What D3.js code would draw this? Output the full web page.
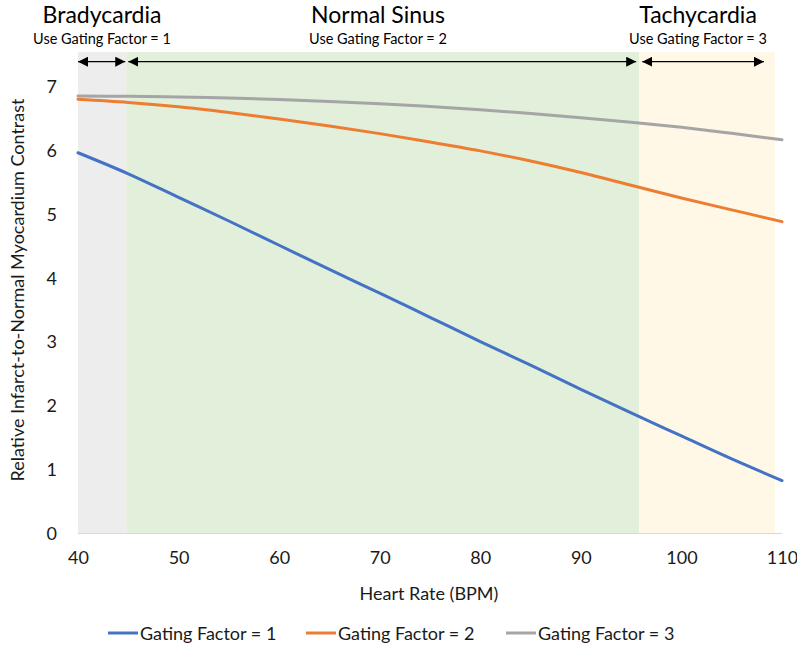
<!DOCTYPE html>
<html>
<head>
<meta charset="utf-8">
<script src="https://cdn.jsdelivr.net/npm/d3@7"></script>
<style>
  body { margin: 0; background: #fff; }
  svg { font-family: Lato, "Open Sans", sans-serif; }
</style>
</head>
<body>
<div id="chart"></div>
<script>
// 1. DATA
const heartRates = [40, 45, 50, 55, 60, 65, 70, 75, 80, 85, 90, 95, 100, 105, 110]
const gating1 = [5.97, 5.64, 5.27, 4.90, 4.52, 4.14, 3.77, 3.39, 3.01, 2.64, 2.26, 1.89, 1.53, 1.17, 0.83]
const gating2 = [6.81, 6.76, 6.69, 6.60, 6.50, 6.39, 6.27, 6.14, 6.00, 5.84, 5.66, 5.46, 5.26, 5.075, 4.89]
const gating3 = [6.86, 6.855, 6.845, 6.83, 6.805, 6.775, 6.74, 6.695, 6.645, 6.585, 6.52, 6.45, 6.37, 6.275, 6.175]
const seriesNames = ["Gating Factor = 1", "Gating Factor = 2", "Gating Factor = 3"]
const seriesColors = ["#4472C4", "#ED7D31", "#A5A5A5"]

const zoneNames = ["Bradycardia", "Normal Sinus", "Tachycardia"]
const zoneNotes = ["Use Gating Factor = 1", "Use Gating Factor = 2", "Use Gating Factor = 3"]
const zoneStart = [40, 44.8, 95.8]
const zoneEnd = [44.8, 95.8, 109.3]
const zoneColors = ["#EDEDED", "#E2EFDA", "#FFF8E6"]
const arrowStart = [40, 45, 96.1]
const arrowEnd = [44.7, 95.5, 108.2]

const xTicks = [40, 50, 60, 70, 80, 90, 100, 110]
const yTicks = [0, 1, 2, 3, 4, 5, 6, 7]

// 2. DIMENSIONS
const dimensions = {
    width: 797,
    height: 646,
    margin: { top: 52, right: 15, bottom: 112.5, left: 78 }
}
dimensions.boundedWidth = dimensions.width - dimensions.margin.left - dimensions.margin.right
dimensions.boundedHeight = dimensions.height - dimensions.margin.top - dimensions.margin.bottom

// 3. DRAW CANVAS
const wrapper = d3.select("#chart")
    .append("svg")
    .attr("width", dimensions.width)
    .attr("height", dimensions.height)

const bounds = wrapper.append("g")
    .attr("transform", `translate(${dimensions.margin.left},${dimensions.margin.top})`)

// 4. SCALES
const xScale = d3.scaleLinear()
    .domain([40, 110])
    .range([0, dimensions.boundedWidth])
const yScale = d3.scaleLinear()
    .domain([0, 7.55])
    .range([dimensions.boundedHeight, 0])

// 5. ZONES
bounds.selectAll("rect.zone")
    .data(zoneStart)
  .enter().append("rect")
    .attr("class", "zone")
    .attr("x", (d, i) => xScale(d))
    .attr("width", (d, i) => xScale(zoneEnd[i]) - xScale(d))
    .attr("y", yScale(7.55))
    .attr("height", yScale(0) - yScale(7.55))
    .attr("fill", (d, i) => zoneColors[i])

// x axis line
bounds.append("line")
    .attr("x1", 0).attr("x2", dimensions.boundedWidth)
    .attr("y1", yScale(0)).attr("y2", yScale(0))
    .attr("stroke", "#D9D9D9")
    .attr("stroke-width", 1.2)

// arrows
const defs = wrapper.append("defs")
defs.append("marker")
    .attr("id", "head")
    .attr("viewBox", "0 0 10 10")
    .attr("refX", 10).attr("refY", 5)
    .attr("markerWidth", 10).attr("markerHeight", 10)
    .attr("markerUnits", "userSpaceOnUse")
    .attr("orient", "auto-start-reverse")
  .append("path")
    .attr("d", "M0,0 L10,5 L0,10 Z")
    .attr("fill", "#000")

const arrowY = yScale(7.55) + 9.7
bounds.selectAll("line.arrow")
    .data(arrowStart)
  .enter().append("line")
    .attr("class", "arrow")
    .attr("x1", d => xScale(d))
    .attr("x2", (d, i) => xScale(arrowEnd[i]))
    .attr("y1", arrowY).attr("y2", arrowY)
    .attr("stroke", "#000")
    .attr("stroke-width", 1.2)
    .attr("marker-start", "url(#head)")
    .attr("marker-end", "url(#head)")

// 6. LINES
const lineGenerator = d3.line()
    .x((d, i) => xScale(heartRates[i]))
    .y(d => yScale(d))
    .curve(d3.curveCatmullRom)

bounds.selectAll("path.series")
    .data([gating1, gating2, gating3])
  .enter().append("path")
    .attr("class", "series")
    .attr("d", lineGenerator)
    .attr("fill", "none")
    .attr("stroke", (d, i) => seriesColors[i])
    .attr("stroke-width", 3)
    .attr("stroke-linecap", "round")

// 7. PERIPHERALS
const xAxisGenerator = d3.axisBottom(xScale)
    .tickValues(xTicks)
    .tickSize(0)
    .tickPadding(18)
const xAxis = bounds.append("g")
    .attr("transform", `translate(0,${yScale(0)})`)
    .call(xAxisGenerator)
xAxis.select(".domain").remove()
xAxis.selectAll("text")
    .attr("fill", "#1a1a1a")
    .style("font-size", "18px")
    .style("font-family", "Lato, sans-serif")

const yAxisGenerator = d3.axisLeft(yScale)
    .tickValues(yTicks)
    .tickSize(0)
    .tickPadding(21)
const yAxis = bounds.append("g")
    .call(yAxisGenerator)
yAxis.select(".domain").remove()
yAxis.selectAll("text")
    .attr("fill", "#1a1a1a")
    .style("font-size", "18px")
    .style("font-family", "Lato, sans-serif")

wrapper.append("text")
    .attr("x", 429)
    .attr("y", 600)
    .attr("text-anchor", "middle")
    .attr("fill", "#1a1a1a")
    .style("font-size", "18px")
    .text("Heart Rate (BPM)")

wrapper.append("text")
    .attr("transform", "translate(24,290) rotate(-90)")
    .attr("text-anchor", "middle")
    .attr("fill", "#1a1a1a")
    .style("font-size", "18px")
    .text("Relative Infarct-to-Normal Myocardium Contrast")

// zone headings
const zoneCenters = [102, 378, 698]
wrapper.selectAll("text.zoneName")
    .data(zoneNames)
  .enter().append("text")
    .attr("class", "zoneName")
    .attr("x", (d, i) => zoneCenters[i])
    .attr("y", 23)
    .attr("text-anchor", "middle")
    .attr("fill", "#000")
    .style("font-size", "23px")
    .text(d => d)

wrapper.selectAll("text.zoneNote")
    .data(zoneNotes)
  .enter().append("text")
    .attr("class", "zoneNote")
    .attr("x", (d, i) => zoneCenters[i])
    .attr("y", 44)
    .attr("text-anchor", "middle")
    .attr("fill", "#000")
    .style("font-size", "14.5px")
    .text(d => d)

// legend
const legendX = [108, 306, 506]
const legend = wrapper.selectAll("g.legend")
    .data(seriesNames)
  .enter().append("g")
    .attr("class", "legend")
    .attr("transform", (d, i) => `translate(${legendX[i]},633)`)
legend.append("line")
    .attr("x1", 0).attr("x2", 30)
    .attr("stroke", (d, i) => seriesColors[i])
    .attr("stroke-width", 3)
legend.append("text")
    .attr("x", 32)
    .attr("y", 6.5)
    .attr("fill", "#1a1a1a")
    .style("font-size", "18px")
    .text(d => d)
</script>
</body>
</html>
